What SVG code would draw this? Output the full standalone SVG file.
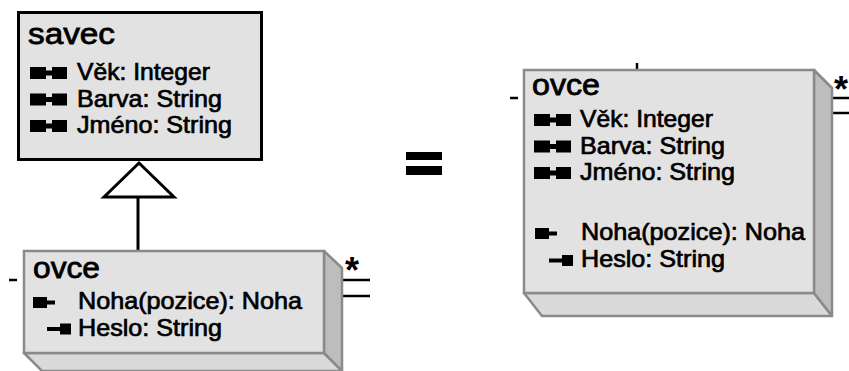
<svg xmlns="http://www.w3.org/2000/svg" width="849" height="371" viewBox="0 0 849 371">
  <style>
    .title { font-family: "Liberation Sans", Arial, sans-serif; font-size: 30px; fill: #000; stroke: #000; stroke-width: 0.8; }
    .attr { font-family: "Liberation Sans", Arial, sans-serif; font-size: 24px; fill: #000; stroke: #000; stroke-width: 0.7; }
    .plain { fill: #e2e2e2; stroke: #000; stroke-width: 3; }
    .front { fill: #e2e2e2; stroke: #8a8a8a; stroke-width: 2.5; }
    .side { fill: #bdbdbd; stroke: #8a8a8a; stroke-width: 2.5; stroke-linejoin: round; }
    .bottom { fill: #dadada; stroke: #8a8a8a; stroke-width: 2.5; stroke-linejoin: round; }
    .ico { fill: #000; }
    .line { stroke: #000; stroke-width: 3; fill: none; }
    .stub { stroke: #000; stroke-width: 2.5; fill: none; }
    .mult { font-family: "Liberation Sans", Arial, sans-serif; font-weight: bold; font-size: 36px; fill: #000; }
  </style>
  <defs>
    <!-- public attribute icon: two blocks joined by a bar -->
    <g id="icoPublic">
      <rect x="0" y="-13" width="16" height="12" class="ico"/>
      <rect x="15" y="-9.5" width="8" height="5" class="ico"/>
      <rect x="22" y="-13" width="15" height="12" class="ico"/>
    </g>
    <!-- private operation icon: block with stub on the right -->
    <g id="icoLeft">
      <rect x="0" y="-12" width="14" height="11" class="ico"/>
      <rect x="13" y="-8.5" width="9" height="4" class="ico"/>
    </g>
    <!-- protected attribute icon: stub on the left, block on the right -->
    <g id="icoRight">
      <rect x="0" y="-8.5" width="14" height="4" class="ico"/>
      <rect x="13" y="-12" width="11" height="11" class="ico"/>
    </g>
  </defs>

  <!-- connectors -->
  <g id="connectors">
    <!-- generalization: ovce -> savec -->
    <line x1="138" y1="197" x2="138" y2="250" class="line"/>
    <polygon points="139,163 104,197 174,197" fill="#fff" stroke="#000" stroke-width="3" stroke-linejoin="miter"/>
    <!-- association stubs of the child ovce -->
    <line x1="9" y1="280" x2="17" y2="280" class="stub" stroke-width="3"/>
    <line x1="343" y1="280" x2="370" y2="280" class="stub"/>
    <line x1="343" y1="296" x2="370" y2="296" class="stub"/>
    <text x="345" y="283" class="mult">*</text>
    <!-- association stubs of the merged ovce -->
    <line x1="510" y1="98" x2="518" y2="98" class="stub" stroke-width="3"/>
    <line x1="637" y1="63" x2="637" y2="70" class="stub"/>
    <line x1="832" y1="98" x2="849" y2="98" class="stub"/>
    <line x1="832" y1="113" x2="849" y2="113" class="stub"/>
    <text x="834" y="102" class="mult">*</text>
  </g>

  <!-- superclass savec -->
  <g id="savec">
    <rect x="18.5" y="12.5" width="243" height="147" class="plain"/>
    <text x="28" y="44" class="title" textLength="87" lengthAdjust="spacingAndGlyphs">savec</text>
    <use href="#icoPublic" x="30" y="80"/>
    <text x="77" y="80" class="attr" textLength="133" lengthAdjust="spacingAndGlyphs">Věk: Integer</text>
    <use href="#icoPublic" x="30" y="106.5"/>
    <text x="77" y="106.5" class="attr" textLength="145" lengthAdjust="spacingAndGlyphs">Barva: String</text>
    <use href="#icoPublic" x="30" y="133"/>
    <text x="77" y="133" class="attr" textLength="155" lengthAdjust="spacingAndGlyphs">Jméno: String</text>
  </g>

  <!-- subclass ovce -->
  <g id="ovce-child">
    <polygon points="24,353 324,353 342,371 42,371" class="bottom"/>
    <polygon points="324,251 342,268 342,371 324,353" class="side"/>
    <rect x="24" y="251" width="300" height="102" class="front"/>
    <text x="33" y="278" class="title" textLength="67" lengthAdjust="spacingAndGlyphs">ovce</text>
    <use href="#icoLeft" x="33" y="309"/>
    <text x="78" y="309" class="attr" textLength="224" lengthAdjust="spacingAndGlyphs">Noha(pozice): Noha</text>
    <use href="#icoRight" x="47" y="335.5"/>
    <text x="78" y="335.5" class="attr" textLength="144" lengthAdjust="spacingAndGlyphs">Heslo: String</text>
  </g>

  <!-- equals sign -->
  <g id="equals">
    <rect x="406" y="152" width="36" height="8" fill="#000"/>
    <rect x="406" y="166" width="36" height="9" fill="#000"/>
  </g>

  <!-- merged ovce with inherited attributes -->
  <g id="ovce-merged">
    <polygon points="524,293 814,293 832,316 542,316" class="bottom"/>
    <polygon points="814,70 832,88 832,316 814,293" class="side"/>
    <rect x="524" y="70" width="290" height="223" class="front"/>
    <text x="532" y="95" class="title" textLength="68" lengthAdjust="spacingAndGlyphs">ovce</text>
    <use href="#icoPublic" x="534" y="127"/>
    <text x="580" y="127" class="attr" textLength="133" lengthAdjust="spacingAndGlyphs">Věk: Integer</text>
    <use href="#icoPublic" x="534" y="153.5"/>
    <text x="580" y="153.5" class="attr" textLength="145" lengthAdjust="spacingAndGlyphs">Barva: String</text>
    <use href="#icoPublic" x="534" y="180"/>
    <text x="580" y="180" class="attr" textLength="155" lengthAdjust="spacingAndGlyphs">Jméno: String</text>
    <use href="#icoLeft" x="535" y="240"/>
    <text x="581" y="240" class="attr" textLength="224" lengthAdjust="spacingAndGlyphs">Noha(pozice): Noha</text>
    <use href="#icoRight" x="549" y="267"/>
    <text x="581" y="267" class="attr" textLength="144" lengthAdjust="spacingAndGlyphs">Heslo: String</text>
  </g>
</svg>
